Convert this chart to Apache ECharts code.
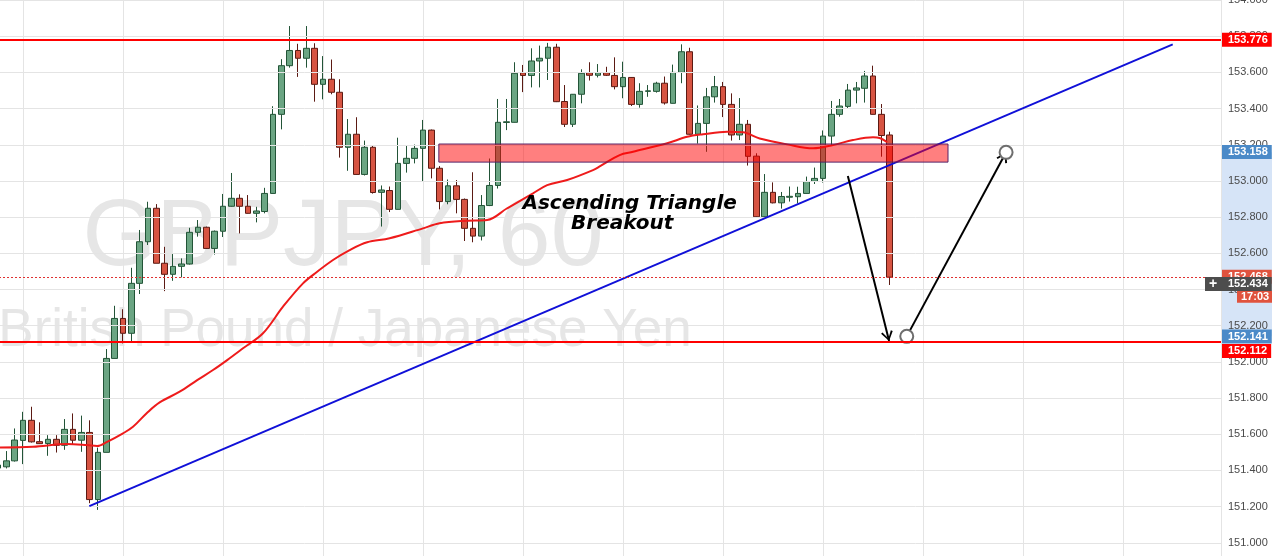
<!DOCTYPE html>
<html>
<head>
<meta charset="utf-8">
<script src="https://cdn.jsdelivr.net/npm/echarts@6/dist/echarts.min.js"></script>
<style>html,body{margin:0;padding:0;background:#fff;}#c{width:1272px;height:556px;}</style>
</head>
<body>
<div id="c"></div>
<script>
// hourly candle slots start at slot 9 (slot 12 sits on the first visible vertical grid line)
const firstSlot = 9;
const opens = [151.413,151.420,151.453,151.566,151.677,151.559,151.549,151.572,151.539,151.627,151.567,151.610,151.239,151.500,152.019,152.240,152.158,152.434,152.664,152.849,152.545,152.484,152.528,152.541,152.716,152.744,152.627,152.722,152.860,152.904,152.860,152.821,152.831,152.931,153.368,153.637,153.721,153.678,153.733,153.534,153.562,153.490,153.186,153.258,153.036,153.186,152.937,152.947,152.843,153.097,153.125,153.180,153.281,153.070,152.886,152.973,152.898,152.738,152.695,152.864,152.975,153.323,153.324,153.598,153.583,153.663,153.678,153.739,153.439,153.313,153.479,153.598,153.584,153.598,153.583,153.521,153.572,153.423,153.495,153.495,153.540,153.429,153.600,153.714,153.258,153.318,153.465,153.521,153.423,153.254,153.313,153.137,152.802,152.937,152.879,152.910,152.913,152.931,152.998,153.014,153.248,153.368,153.412,153.502,153.512,153.580,153.368,153.254];
const closes = [151.430,151.453,151.568,151.677,151.558,151.548,151.572,151.539,151.627,151.567,151.610,151.239,151.500,152.019,152.240,152.158,152.434,152.664,152.849,152.545,152.484,152.528,152.541,152.716,152.744,152.627,152.722,152.860,152.904,152.860,152.821,152.834,152.931,153.368,153.637,153.721,153.678,153.733,153.534,153.562,153.490,153.186,153.258,153.036,153.186,152.936,152.950,152.843,153.097,153.125,153.180,153.281,153.070,152.886,152.973,152.898,152.738,152.695,152.864,152.975,153.324,153.327,153.595,153.583,153.663,153.678,153.739,153.438,153.313,153.479,153.595,153.584,153.598,153.584,153.521,153.572,153.423,153.495,153.498,153.540,153.431,153.600,153.714,153.258,153.318,153.465,153.521,153.423,153.254,153.313,153.136,152.802,152.937,152.879,152.914,152.915,152.931,152.997,153.014,153.248,153.368,153.414,153.502,153.514,153.580,153.368,153.251,152.468];
const lows = [151.402,151.411,151.449,151.435,151.554,151.546,151.481,151.499,151.514,151.542,151.503,151.219,151.182,151.500,152.019,152.102,152.115,152.375,152.646,152.545,152.391,152.448,152.467,152.538,152.692,152.624,152.593,152.690,152.858,152.710,152.820,152.771,152.821,152.930,153.285,153.626,153.575,153.626,153.438,153.451,153.479,153.129,153.056,153.035,153.030,152.930,152.748,152.828,152.842,153.046,153.097,152.999,153.014,152.843,152.871,152.821,152.668,152.661,152.671,152.861,152.958,153.281,153.323,153.491,153.517,153.517,153.558,153.436,153.298,153.298,153.429,153.555,153.572,153.580,153.506,153.457,153.414,153.405,153.465,153.488,153.422,153.428,153.540,153.256,153.206,153.161,153.433,153.353,153.223,153.226,153.085,152.800,152.800,152.876,152.847,152.886,152.876,152.930,152.983,152.991,153.193,153.355,153.403,153.429,153.433,153.367,153.134,152.425];
const highs = [151.441,151.507,151.632,151.724,151.752,151.666,151.595,151.595,151.684,151.715,151.703,151.677,151.526,152.071,152.310,152.291,152.520,152.729,152.885,152.872,152.636,152.596,152.572,152.741,152.784,152.748,152.726,152.928,153.044,152.926,152.922,152.857,152.962,153.413,153.673,153.856,153.758,153.856,153.761,153.690,153.671,153.562,153.342,153.352,153.223,153.193,152.975,152.969,153.239,153.196,153.201,153.337,153.284,153.082,153.008,153.005,152.903,153.048,152.922,153.124,153.453,153.453,153.656,153.641,153.733,153.748,153.763,153.758,153.530,153.480,153.617,153.656,153.646,153.631,153.683,153.659,153.574,153.540,153.530,153.548,153.577,153.643,153.755,153.736,153.417,153.514,153.580,153.547,153.484,153.458,153.337,153.153,153.038,152.992,152.939,152.969,152.968,153.024,153.074,153.279,153.442,153.453,153.536,153.547,153.608,153.637,153.425,153.272];

// moving average
const maSlots = [9.2,13.2,17.3,19.7,20.9,22.1,24.0,25.2,26.9,28.4,30.8,32.9,34.8,36.5,38.4,40.8,43.2,45.6,47.3,49.2,51.2,53.3,56.0,60.0,62.0,65.3,67.7,70.1,73.2,74.9,77.3,80.4,81.2,83.6,85.2,89.3,91.7,93.6,96.5,98.4,100.4,103.7,106.8,109.2,111.6,114.0,114.8,115.7];
const maValues = [151.527,151.531,151.546,151.540,151.535,151.558,151.605,151.641,151.719,151.776,151.835,151.899,151.955,152.010,152.075,152.158,152.305,152.434,152.498,152.563,152.618,152.661,152.683,152.738,152.766,152.780,152.784,152.849,152.931,152.977,153.005,153.060,153.080,153.143,153.161,153.208,153.244,153.258,153.272,153.269,153.235,153.202,153.180,153.198,153.226,153.241,153.237,153.215];

// drawings
const trendSlots = [19.96, 149.97];
const trendValues = [151.203, 153.755];
const resistance = 153.776;
const support = 152.112;
const supportTagAt = 152.057;
const lastPrice = 152.468;
const crossPrice = 152.434;
const countdownText = '17:03';
const countdownAt = 152.358;
const zoneSlots = [61.9, 123.0];
const zoneValues = [153.104, 153.204];
const dropSlots = [110.98, 115.93];
const dropValues = [153.027, 152.115];
const projSlots = [118.05, 129.97];
const projValues = [152.141, 153.158];
const noteLines = ['Ascending Triangle', 'Breakout'];
const noteSlots = [84.8, 83.9];
const noteValues = [152.872, 152.762];
const watermark = ['GBPJPY, 60', 'British Pound / Japanese Yen'];

const candleData = opens.map((o, i) => [firstSlot + i, o, closes[i], lows[i], highs[i]]);
const fmt = v => v.toFixed(3);
const FONT = '"Liberation Sans", Arial, sans-serif';
function tag(text, bg, distance, pad) {
  return {
    show: true, position: 'end', distance: distance, formatter: text,
    backgroundColor: bg, padding: pad || [1, 4, 1, 6],
    color: '#fff', fontFamily: FONT, fontSize: 11, fontWeight: 'bold', lineHeight: 12
  };
}
const hidden = { color: 'rgba(0,0,0,0)', width: 1, type: 'solid' };
const chevron = 'path://M5,0 L5.01,0 Z M0,19 L5,10 L10,19 L8.6,20 L5,12.6 L1.4,20 Z';

const chart = echarts.init(document.getElementById('c'), null, { renderer: 'canvas', width: 1272, height: 556 });
chart.setOption({
  animation: false,
  backgroundColor: '#ffffff',
  graphic: [
    { type: 'text', z: -10, silent: true, x: 343, y: 239,
      style: { text: watermark[0], font: '95px "Liberation Sans", Arial, sans-serif', fill: '#e6e6e6',
               align: 'center', verticalAlign: 'middle', textAlign: 'center', textVerticalAlign: 'middle' } },
    { type: 'text', z: -10, silent: true, x: 345, y: 331,
      style: { text: watermark[1], font: '53px "Liberation Sans", Arial, sans-serif', fill: '#e6e6e6',
               align: 'center', verticalAlign: 'middle', textAlign: 'center', textVerticalAlign: 'middle' } }
  ],
  grid: [
    { left: -77, right: 51, top: 0, bottom: -23, containLabel: false, outerBoundsMode: 'none' },
    { left: 1222, right: 0, top: 0, bottom: -23, containLabel: false, outerBoundsMode: 'none' }
  ],
  xAxis: [
    { type: 'value', gridIndex: 0, min: 0, max: 155.76, interval: 12,
      axisLine: { show: false }, axisTick: { show: false }, axisLabel: { show: false },
      splitLine: { show: true, lineStyle: { color: '#e4e4e4', width: 1 } } },
    { type: 'value', gridIndex: 1, min: 0, max: 1, show: false }
  ],
  yAxis: [
    { type: 'value', gridIndex: 0, position: 'right', min: 150.8, max: 154.0, interval: 0.2, z: 3,
      axisLine: { show: true, lineStyle: { color: '#555', width: 1 } },
      axisTick: { show: true, length: 4, lineStyle: { color: '#555' } },
      axisLabel: { color: '#4a4a4a', fontSize: 11, fontFamily: FONT, margin: 7, formatter: v => v.toFixed(3) },
      splitLine: { show: true, lineStyle: { color: '#e4e4e4', width: 1 } } },
    { type: 'value', gridIndex: 1, min: 150.8, max: 154.0, show: false }
  ],
  series: [
    { // light band in the price scale
      type: 'line', xAxisIndex: 1, yAxisIndex: 1, data: [], silent: true, z: 1,
      markArea: { silent: true, z: 1, itemStyle: { color: '#d6e4f7' },
        data: [[{ yAxis: projValues[0] }, { yAxis: projValues[1] }]] }
    },
    {
      type: 'candlestick', xAxisIndex: 0, yAxisIndex: 0, data: candleData, barWidth: 6, z: 2, silent: true,
      itemStyle: { color: '#6ba583', color0: '#d75442', borderColor: '#225437', borderColor0: '#5b1a13', borderWidth: 1 }
    },
    {
      type: 'line', data: maSlots.map((s, i) => [s, maValues[i]]), smooth: 0.35, showSymbol: false, silent: true, z: 3,
      lineStyle: { color: '#ee1b1b', width: 2 }
    },
    {
      type: 'line', data: trendSlots.map((s, i) => [s, trendValues[i]]), showSymbol: false, silent: true, z: 4,
      lineStyle: { color: '#1010d8', width: 2 }
    },
    { // zone, arrows, notes
      type: 'line', data: [], silent: true, z: 5,
      markArea: { silent: true, z: 6,
        itemStyle: { color: 'rgba(255,0,0,0.5)', borderColor: '#552266', borderWidth: 1 },
        data: [[{ coord: [zoneSlots[0], zoneValues[1]] }, { coord: [zoneSlots[1], zoneValues[0]] }]] },
      markLine: { silent: true, z: 7, symbol: ['none', chevron], symbolSize: [12, 20],
        lineStyle: { color: '#000', width: 2, type: 'solid' }, label: { show: false },
        data: [
          [{ coord: [dropSlots[0], dropValues[0]] }, { coord: [dropSlots[1], dropValues[1]] }],
          [{ coord: [projSlots[0], projValues[0]] }, { coord: [projSlots[1], projValues[1]] }]
        ] },
      markPoint: { silent: true, z: 8, symbol: 'circle', symbolSize: 1, itemStyle: { color: 'rgba(0,0,0,0)' },
        label: { show: true, position: 'inside', color: '#000', fontFamily: '"DejaVu Sans", Verdana, sans-serif',
                 fontSize: 20, fontWeight: 'bold', fontStyle: 'italic' },
        data: noteLines.map((t, i) => ({ coord: [noteSlots[i], noteValues[i]], value: t,
                 label: { formatter: t } })) }
    },
    {
      type: 'scatter', data: projSlots.map((s, i) => [s, projValues[i]]), silent: true, z: 8,
      symbol: 'circle', symbolSize: 13,
      itemStyle: { color: '#ffffff', borderColor: '#6e6e6e', borderWidth: 2, opacity: 1 }
    },
    { // horizontal levels + price-scale tags
      type: 'line', data: [], silent: true, z: 9,
      markLine: { silent: true, z: 9, symbol: 'none',
        data: [
          { yAxis: resistance, lineStyle: { color: '#ff0000', width: 2, type: 'solid' }, label: tag(fmt(resistance), '#ff0000', 1) },
          { yAxis: support, lineStyle: { color: '#ff0000', width: 2, type: 'solid' }, label: { show: false } },
          { yAxis: lastPrice, lineStyle: { color: '#e03030', width: 1, type: [2, 2] }, label: tag(fmt(lastPrice), '#e0533e', 1) },
          { yAxis: projValues[1], lineStyle: hidden, label: tag(fmt(projValues[1]), '#4b8ac8', 1) },
          { yAxis: projValues[0], lineStyle: hidden, label: tag(fmt(projValues[0]), '#4b8ac8', 1) },
          { yAxis: supportTagAt, lineStyle: hidden, label: tag(fmt(support), '#ff0000', 1) },
          { yAxis: countdownAt, lineStyle: hidden, label: tag(countdownText, '#e0533e', 16, [0, 4, 0, 4]) },
          { yAxis: crossPrice, lineStyle: hidden,
            label: { show: true, position: 'end', distance: -16, formatter: '{p|+}{v|' + fmt(crossPrice) + '}',
              backgroundColor: '#4d4d4d', padding: [1, 4, 1, 4],
              rich: { p: { width: 19, fontSize: 14, fontWeight: 'bold', color: '#fff', fontFamily: FONT, lineHeight: 12 },
                      v: { fontSize: 11, fontWeight: 'bold', color: '#fff', fontFamily: FONT, lineHeight: 12 } } } }
        ] }
    }
  ]
});
</script>
</body>
</html>
